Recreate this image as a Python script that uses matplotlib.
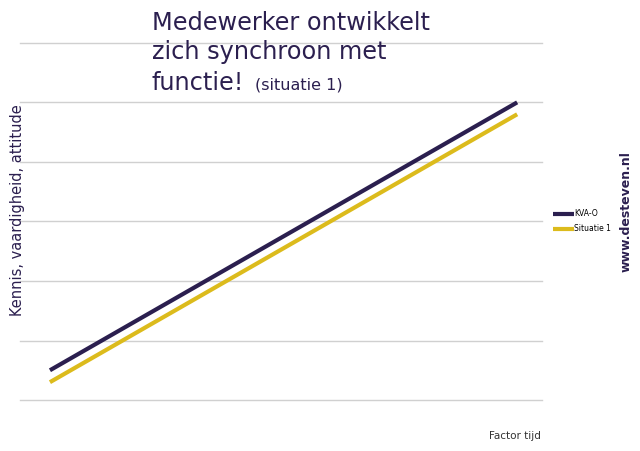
import matplotlib.pyplot as plt

tijd = [1, 10]
kva_o = [0.5, 5.0]
situatie_1 = [0.3, 4.8]

navy = "#2b1f4f"
geel = "#dcbb1c"

fig = plt.figure(figsize=(6.4, 4.51), dpi=100)
ax = fig.add_axes([0.031, 0.113, 0.816, 0.792])

ax.plot(tijd, kva_o, color=navy, linewidth=3, label="KVA-O", solid_capstyle="butt")
ax.plot(tijd, situatie_1, color=geel, linewidth=3, label="Situatie 1", solid_capstyle="butt")

ax.set_xlim(0.42, 10.48)
ax.set_ylim(0, 6)
ax.set_yticks(range(7))
ax.yaxis.grid(True, color="#d0d0d0", linewidth=1)
for gl in ax.get_ygridlines():
    gl.set_clip_on(False)
ax.set_axisbelow(True)
ax.tick_params(left=False, bottom=False, labelleft=False, labelbottom=False)
for s in ax.spines.values():
    s.set_visible(False)

fig.text(0.027, 0.535, "Kennis, vaardigheid, attitude", rotation=90,
         ha="center", va="center", fontsize=10.5, color=navy)
fig.text(0.237, 0.95, "Medewerker ontwikkelt", ha="left", va="center", fontsize=17.3, color=navy)
fig.text(0.237, 0.885, "zich synchroon met", ha="left", va="center", fontsize=17.3, color=navy)
fig.text(0.237, 0.815, "functie!", ha="left", va="center", fontsize=17.3, color=navy)
fig.text(0.398, 0.812, "(situatie 1)", ha="left", va="center", fontsize=11.5, color=navy)
fig.text(0.845, 0.033, "Factor tijd", ha="right", va="center", fontsize=7.5, color="#333333")
fig.text(0.978, 0.53, "www.desteven.nl", rotation=90, ha="center", va="center",
         fontsize=9, fontweight="bold", color=navy)

ax.legend(loc="center left", bbox_to_anchor=(1.01, 0.5), frameon=False,
          fontsize=5.5, handlelength=2.8, handletextpad=0.05, labelspacing=0.8,
          borderaxespad=0.3)

fig.savefig("out.png", dpi=100)
